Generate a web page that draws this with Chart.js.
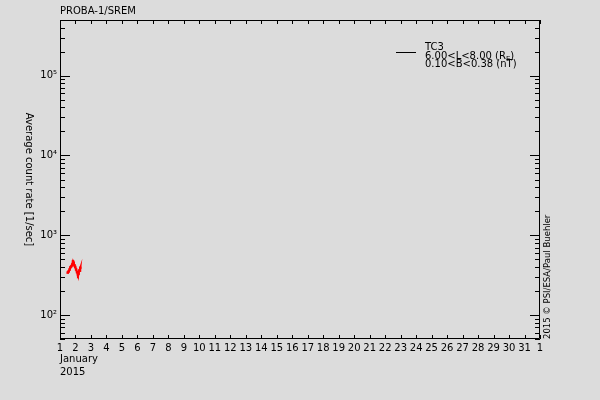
<!DOCTYPE html>
<html>
<head>
<meta charset="utf-8">
<script src="https://cdn.jsdelivr.net/npm/chart.js@4/dist/chart.umd.min.js"></script>
<style>
  html, body { margin: 0; padding: 0; background: #dcdcdc; }
  #wrap { width: 600px; height: 400px; }
</style>
</head>
<body>
<div id="wrap"><canvas id="c" width="600" height="400"></canvas></div>
<script>
// ---- data ----
const dayValues = [1.50, 1.56, 1.62, 1.68, 1.74, 1.79, 1.84, 1.88, 1.93, 1.98, 2.04, 2.10, 2.16, 2.20, 2.25, 2.31, 2.29];
const countRates = [340, 352, 372, 398, 410, 430, 470, 450, 420, 400, 372, 345, 318, 330, 360, 390, 360];
const xTickLabels = ['1','2','3','4','5','6','7','8','9','10','11','12','13','14','15','16','17','18','19','20','21','22','23','24','25','26','27','28','29','30','31','1'];
const yMajorTicks = [100, 1000, 10000, 100000];
const yTickLabels = ['10²', '10³', '10⁴', '10⁵'];
const titleText = 'PROBA-1/SREM';
const yTitleText = 'Average count rate [1/sec]';
const monthText = 'January';
const yearText = '2015';
const creditText = '2015 © PSI/ESA/Paul Buehler';
const legendLine1 = 'TC3';
const legendLine2 = ['6.00<L<8.00 (R', 'E', ')'];
const legendLine3 = '0.10<B<0.38 (nT)';

const FONT = 'DejaVu Sans';
const xMin = 1, xMax = 32, yMin = 50, yMax = 500000;

const overlay = {
  id: 'overlay',
  beforeDraw(chart) {
    const ctx = chart.ctx;
    ctx.save();
    ctx.fillStyle = '#dcdcdc';
    ctx.fillRect(0, 0, chart.width, chart.height);
    ctx.restore();
  },
  afterDraw(chart) {
    const ctx = chart.ctx;
    const a = chart.chartArea;
    const xs = chart.scales.x, ys = chart.scales.y;
    ctx.save();
    ctx.strokeStyle = '#000';
    ctx.lineWidth = 1;
    ctx.beginPath();
    ctx.rect(Math.round(a.left) + 0.5, Math.round(a.top) + 0.5, Math.round(a.right - a.left) - 1, Math.round(a.bottom - a.top) - 1);
    ctx.stroke();
    // x ticks (inward, bottom and top)
    ctx.beginPath();
    for (let d = xMin; d <= xMax; d++) {
      const px = Math.round(xs.getPixelForValue(d)) + 0.5;
      ctx.moveTo(px, a.bottom); ctx.lineTo(px, a.bottom - 4);
      ctx.moveTo(px, a.top); ctx.lineTo(px, a.top + 4);
    }
    // y ticks (inward, left and right)
    for (let dec = 10; dec <= 100000; dec *= 10) {
      for (let k = 1; k <= 9; k++) {
        const v = k * dec;
        if (v < yMin || v > yMax) continue;
        const len = k === 1 ? 10 : 5;
        const py = Math.round(ys.getPixelForValue(v)) + 0.5;
        ctx.moveTo(a.left, py); ctx.lineTo(a.left + len, py);
        ctx.moveTo(a.right, py); ctx.lineTo(a.right - len, py);
      }
    }
    ctx.stroke();

    ctx.fillStyle = '#000';
    ctx.font = '10px "' + FONT + '"';
    ctx.textBaseline = 'alphabetic';
    ctx.textAlign = 'left';
    // title
    ctx.fillText(titleText, a.left, 14);
    // month / year
    ctx.fillText(monthText, a.left, 362);
    ctx.fillText(yearText, a.left, 375);
    // y title, reading top to bottom
    ctx.save();
    ctx.translate(29, (a.top + a.bottom) / 2);
    ctx.rotate(Math.PI / 2);
    ctx.textAlign = 'center';
    ctx.textBaseline = 'middle';
    ctx.fillText(yTitleText, 0, 0);
    ctx.restore();
    // credit, reading bottom to top
    ctx.save();
    ctx.font = '8.5px "' + FONT + '"';
    ctx.translate(548, a.bottom);
    ctx.rotate(-Math.PI / 2);
    ctx.textAlign = 'left';
    ctx.textBaseline = 'middle';
    ctx.fillText(creditText, 0, 0);
    ctx.restore();
    // legend
    ctx.beginPath();
    ctx.moveTo(396, 52.5); ctx.lineTo(416, 52.5);
    ctx.stroke();
    ctx.fillText(legendLine1, 425, 50);
    let x = 425;
    ctx.fillText(legendLine2[0], x, 58.5);
    x += ctx.measureText(legendLine2[0]).width;
    ctx.font = '7px "' + FONT + '"';
    ctx.fillText(legendLine2[1], x, 60.5);
    x += ctx.measureText(legendLine2[1]).width;
    ctx.font = '10px "' + FONT + '"';
    ctx.fillText(legendLine2[2], x, 58.5);
    ctx.fillText(legendLine3, 425, 67);
    ctx.restore();
  }
};

new Chart(document.getElementById('c'), {
  type: 'scatter',
  data: {
    datasets: [{
      label: legendLine1,
      data: dayValues.map((d, i) => ({ x: d, y: countRates[i] })),
      showLine: true,
      borderColor: '#ff0000',
      backgroundColor: '#ff0000',
      borderWidth: 2,
      pointStyle: 'rect',
      pointRadius: 1.8,
      pointBorderWidth: 0
    }]
  },
  options: {
    responsive: false,
    animation: false,
    layout: { padding: { top: 20, left: 0, right: 0, bottom: 0 } },
    plugins: { legend: { display: false }, tooltip: { enabled: false }, title: { display: false } },
    scales: {
      x: {
        type: 'linear', min: xMin, max: xMax,
        afterFit: s => { s.height = 61; },
        grid: { display: false, drawTicks: false },
        border: { display: false },
        ticks: {
          stepSize: 1, autoSkip: false, maxRotation: 0, padding: 3,
          color: '#000', font: { family: FONT, size: 10 },
          callback: (v) => xTickLabels[Math.round(v) - xMin]
        }
      },
      y: {
        type: 'logarithmic', min: yMin, max: yMax, position: 'left',
        afterFit: s => { s.width = 60; },
        afterBuildTicks: s => { s.ticks = yMajorTicks.map(v => ({ value: v, major: true })); },
        grid: { display: false, drawTicks: false },
        border: { display: false },
        ticks: {
          autoSkip: false, padding: 3, color: '#000', font: { family: FONT, size: 10 },
          callback: (v) => { const i = yMajorTicks.indexOf(v); return i >= 0 ? yTickLabels[i] : ''; }
        }
      },
      y2: {
        type: 'logarithmic', min: yMin, max: yMax, position: 'right',
        afterFit: s => { s.width = 60; },
        grid: { display: false, drawTicks: false },
        border: { display: false },
        ticks: { display: false }
      }
    }
  },
  plugins: [overlay]
});
</script>
</body>
</html>
